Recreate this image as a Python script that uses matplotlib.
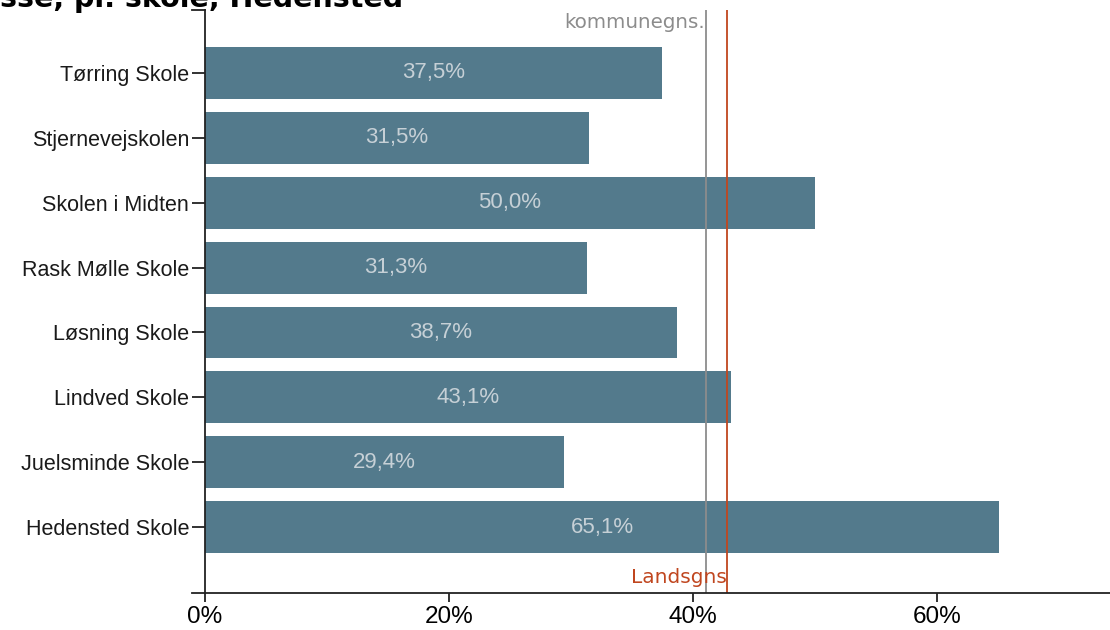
import matplotlib
matplotlib.use("Agg")
import matplotlib.pyplot as plt
from matplotlib.lines import Line2D

plt.rcParams["font.family"] = ["Liberation Sans", "DejaVu Sans"]

# ---- data (bottom to top) ----
schools = ["Hedensted Skole", "Juelsminde Skole", "Lindved Skole", "Løsning Skole",
           "Rask Mølle Skole", "Skolen i Midten", "Stjernevejskolen", "Tørring Skole"]
values = [65.1, 29.4, 43.1, 38.7, 31.3, 50.0, 31.5, 37.5]
kommune_avg = 41.1
lands_avg = 42.8
x_ticks = [0, 20, 40, 60]
title = "sse, pr. skole, Hedensted"

BAR_COLOR = "#537a8c"
LANDS_COLOR = "#c0461f"
AXIS_COLOR = "#222222"

W, H = 1110, 630
left_px, top_px, bottom_px = 205, 10, 593

fig = plt.figure(figsize=(W / 100, H / 100), dpi=100)
ax = fig.add_axes([left_px / W, 1 - bottom_px / H, 1 - left_px / W, (bottom_px - top_px) / H])

ypos = range(len(schools))
ax.barh(ypos, values, height=0.8, color=BAR_COLOR)
for y, v in zip(ypos, values):
    ax.text(v / 2, y, f"{v:.1f}%".replace(".", ","), ha="center", va="center",
            color="#c6d0d6", fontsize=16)

ax.axvline(kommune_avg, color="#8c8c8c", lw=1.3)
ax.axvline(lands_avg, color=LANDS_COLOR, lw=1.3)
ax.text(kommune_avg - 0.15, 7.78, "kommunegns.", ha="right", va="center",
        color="#8c8c8c", fontsize=14.3, family=["DejaVu Sans"])
ax.text(lands_avg - 0.05, -0.78, "Landsgns", ha="right", va="center",
        color=LANDS_COLOR, fontsize=14.5, family=["DejaVu Sans"])

ax.set_xlim(0, 74.2)
ax.set_ylim(-1.015, 7.97)
ax.set_yticks(list(ypos))
ax.set_yticklabels(schools, fontsize=15.5, color="#1a1a1a")
ax.set_xticks(x_ticks)
ax.set_xticklabels([f"{t}%" for t in x_ticks], fontsize=17.5)
ax.tick_params(axis="y", length=9.5, width=1.3, color=AXIS_COLOR, pad=2)
ax.tick_params(axis="x", length=6.5, width=1.3, color=AXIS_COLOR, pad=3)
ax.spines["top"].set_visible(False)
ax.spines["right"].set_visible(False)
for s in ("left", "bottom"):
    ax.spines[s].set_linewidth(1.3)
    ax.spines[s].set_color(AXIS_COLOR)

# outer ticks of the y axis (top and bottom)
for ypx in (top_px, bottom_px):
    fig.add_artist(Line2D([(left_px - 13) / W, left_px / W], [1 - ypx / H] * 2,
                          color=AXIS_COLOR, lw=1.3))

fig.text(0, 1 - 7 / H, title, ha="left", va="baseline", fontsize=20.5,
         fontweight="bold", family=["DejaVu Sans"])

fig.savefig("out.png", dpi=100)
